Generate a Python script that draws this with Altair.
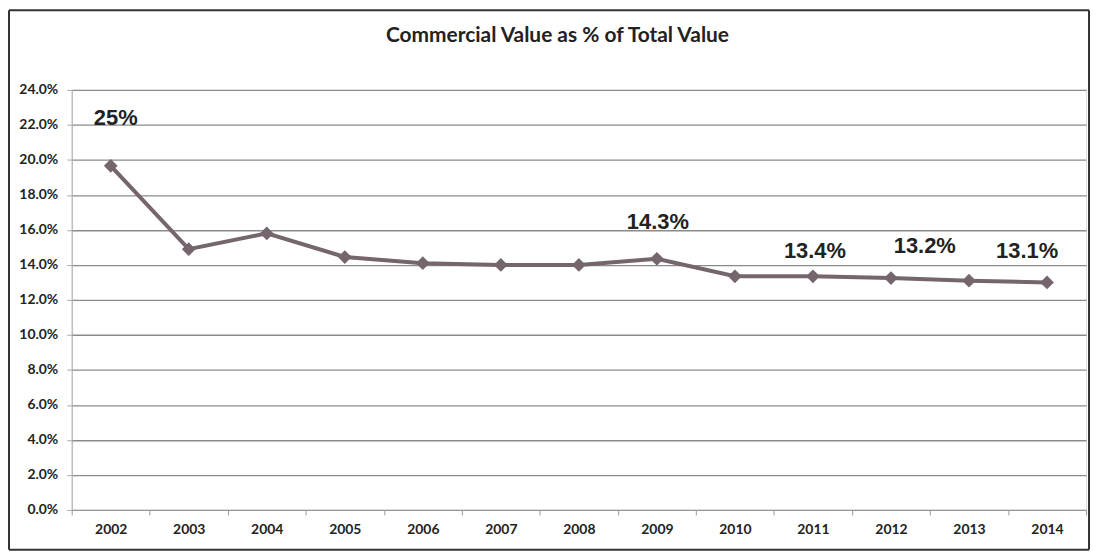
import altair as alt
import pandas as pd

years = ["2002", "2003", "2004", "2005", "2006", "2007", "2008",
         "2009", "2010", "2011", "2012", "2013", "2014"]
share = [0.1966, 0.149, 0.158, 0.1445, 0.141, 0.140, 0.140,
         0.1435, 0.1335, 0.1335, 0.1325, 0.131, 0.130]

label_years = ["2002", "2009", "2011", "2012", "2014"]
label_texts = ["25%", "14.3%", "13.4%", "13.2%", "13.1%"]
label_y = [0.224, 0.1645, 0.148, 0.151, 0.148]
label_dx = [5, 1, 2, 34, -20]

title_text = "Commercial Value as % of Total Value"
y_ticks = [round(i * 0.02, 2) for i in range(13)]

df = pd.DataFrame({"year": years, "share": share})
lab = pd.DataFrame({"year": label_years, "text": label_texts,
                    "share": label_y, "dx": label_dx})
tdf = pd.DataFrame({"t": [title_text]})

W, H = 1019, 422
LINE = "#74666c"

x_axis = alt.Axis(labelAngle=0, labelFont="Lato", labelFontSize=14,
                  labelFontWeight="bold", labelColor="#222",
                  labelPadding=8, domainColor="#999", tickColor="#999",
                  tickBand="extent", tickSize=5, grid=False)
y_axis = alt.Axis(values=y_ticks, tickCount=13, format=".1%", labelFont="Lato",
                  labelFontSize=14, labelFontWeight="bold",
                  labelColor="#222", labelPadding=9, labelOverlap=False,
                  domainColor="#aaa", tickColor="#aaa", tickSize=5,
                  gridColor="#8a8a8a", gridWidth=1.3)
x_scale = alt.Scale(paddingInner=0, paddingOuter=0)
y_scale = alt.Scale(domain=[0, 0.24], nice=False)


def xe():
    return alt.X("year:N", sort=years, title=None, scale=x_scale, axis=x_axis)


def ye():
    return alt.Y("share:Q", title=None, scale=y_scale, axis=y_axis)


line = alt.Chart(df).mark_line(color=LINE, strokeWidth=4).encode(x=xe(), y=ye())
pts = alt.Chart(df).mark_point(shape="diamond", filled=True, color=LINE,
                               size=190, opacity=1).encode(x=xe(), y=ye())

layers = [line, pts]
for yr, dx in zip(label_years, label_dx):
    d = lab[lab["year"] == yr]
    layers.append(alt.Chart(d).mark_text(
        font="Liberation Sans", fontSize=22, fontWeight="bold", color="#222",
        dx=dx, baseline="middle").encode(x=xe(), y=ye(), text="text:N"))

title = alt.Chart(tdf).mark_text(
    font="Lato", fontSize=21, fontWeight="bold", color="#222",
    align="center", baseline="middle", clip=False).encode(
    x=alt.value(488), y=alt.value(-54), text="t:N")
layers.append(title)

L, R, T, B = -63, W + 3, -80, H + 40
edges = [(L, R, T, T), (L, R, B, B), (L, L, T, B), (R, R, T, B)]
for x1, x2, y1, y2 in edges:
    layers.append(alt.Chart(tdf).mark_rule(color="#333", strokeWidth=2,
                                           clip=False).encode(
        x=alt.value(x1), x2=alt.value(x2), y=alt.value(y1), y2=alt.value(y2)))

chart = alt.layer(*layers).properties(
    width=W, height=H,
    autosize=alt.AutoSizeParams(type="none"),
    padding={"left": 64, "top": 81, "right": 5, "bottom": 42},
).configure_view(stroke=None).configure(background="white")

chart.save("out.html", embed_options={"renderer": "svg", "actions": False})
